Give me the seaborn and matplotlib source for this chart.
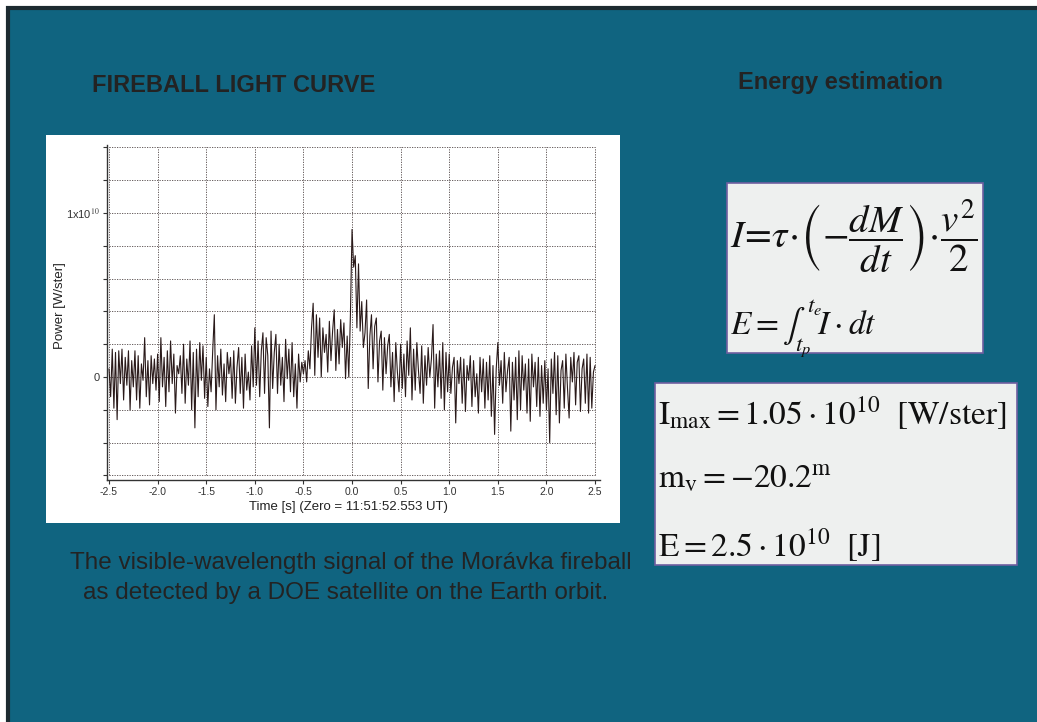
import numpy as np
import matplotlib
matplotlib.use('Agg')
import matplotlib.pyplot as plt
from matplotlib.patches import Rectangle
import seaborn as sns

# light curve, power in units of 1e10 W/ster, one sample every 1/60 s from -2.5 s
seg1 = [0.05, -0.12, 0.17, -0.19, 0.15, -0.26, 0.16, -0.04, 0.17, -0.14, 0.12, -0.05, 0.16, -0.20, 0.10,
        -0.06, 0.16, -0.14, 0.13, -0.19, 0.08, -0.02, 0.24, -0.12, 0.10, -0.17, 0.13, -0.04, 0.11, -0.08]
seg2 = [0.14, -0.15, 0.24, -0.06, 0.12, -0.18, 0.16, -0.09, 0.22, -0.04, 0.14, -0.22, 0.07, 0.02, 0.13,
        -0.10, 0.20, -0.16, 0.11, -0.05, 0.22, -0.20, 0.15, -0.31, 0.17, -0.12, 0.21, -0.02, 0.19, -0.13]
seg3 = [0.12, -0.18, 0.05, -0.09, 0.16, 0.38, -0.20, 0.13, -0.06, 0.17, -0.11, 0.08, -0.15, 0.15, 0.02,
        0.12, -0.13, 0.16, -0.16, 0.06, 0.18, -0.10, 0.12, -0.19, 0.14, -0.08, 0.03, -0.14, 0.19, -0.06]
seg4 = [0.30, -0.05, 0.22, -0.12, 0.16, 0.27, -0.10, 0.24, 0.13, -0.31, 0.28, -0.07, 0.15, 0.26, -0.10,
        0.20, -0.05, 0.12, -0.15, 0.23, -0.01, 0.17, -0.09, 0.21, -0.12, 0.08, -0.19, 0.14, -0.03, 0.09]
seg5 = [0.02, 0.10, -0.03, 0.16, 0.05, 0.30, 0.45, 0.01, 0.38, 0.12, 0.36, 0.00, 0.30, 0.15, 0.26,
        0.03, 0.34, 0.10, 0.28, 0.41, 0.04, 0.29, 0.08, 0.35, 0.18, 0.33, -0.01, 0.25, 0.00, 0.38]
seg6 = [0.90, 0.67, 0.74, 0.30, 0.69, 0.28, 0.46, 0.18, 0.27, 0.47, -0.07, 0.25, 0.38, 0.05, 0.31,
        0.36, -0.03, 0.22, 0.28, -0.08, 0.24, 0.02, 0.19, 0.26, -0.06, 0.15, -0.15, 0.21, 0.03, -0.09]
seg7 = [0.20, -0.07, 0.14, -0.12, 0.22, 0.01, 0.30, -0.14, 0.17, -0.08, 0.21, 0.04, -0.10, 0.19, -0.16,
        0.13, -0.05, 0.18, 0.00, 0.11, 0.32, -0.19, 0.14, -0.06, 0.16, -0.13, 0.21, -0.20, 0.15, -0.09]
seg8 = [0.14, -0.10, 0.06, 0.12, -0.28, 0.10, -0.04, 0.12, -0.16, 0.11, -0.21, 0.07, -0.02, 0.13, -0.18,
        0.10, -0.12, 0.02, -0.22, 0.12, -0.09, 0.11, -0.19, 0.09, -0.14, 0.13, -0.24, 0.07, -0.35, 0.05]
seg9 = [0.21, -0.05, 0.10, -0.16, 0.15, -0.09, 0.04, 0.12, -0.33, 0.09, -0.14, 0.12, -0.26, 0.16, -0.20,
        0.13, -0.08, 0.08, -0.22, 0.11, -0.27, 0.14, -0.06, 0.09, -0.18, 0.12, -0.24, 0.07, -0.16, 0.10]
seg10 = [-0.20, 0.05, -0.40, 0.11, -0.10, 0.15, -0.23, 0.13, -0.28, 0.04, 0.10, -0.19, 0.14, -0.07, -0.25,
         0.12, -0.03, 0.15, -0.17, 0.09, 0.13, -0.21, 0.05, 0.11, -0.16, 0.14, -0.22, 0.12, -0.19, 0.03, 0.07]

power = np.array(seg1 + seg2 + seg3 + seg4 + seg5 + seg6 + seg7 + seg8 + seg9 + seg10)
time = np.linspace(-2.5, 2.5, len(power))

xtick_values = [-2.5, -2.0, -1.5, -1.0, -0.5, 0.0, 0.5, 1.0, 1.5, 2.0, 2.5]
xtick_labels = ['-2.5', '-2.0', '-1.5', '-1.0', '-0.5', '0.0', '0.5', '1.0', '1.5', '2.0', '2.5']
ytick_values = [-0.6, -0.4, -0.2, 0.0, 0.2, 0.4, 0.6, 0.8, 1.0, 1.2, 1.4]
ytick_labels = ['', '', '', '0', '', '', '', '', '1x10$^{10}$', '', '']

teal = '#106480'
ink = '#232323'

sns.set_theme(style='white')
plt.rcParams['font.family'] = ['Liberation Sans', 'DejaVu Sans']
plt.rcParams['mathtext.fontset'] = 'stix'

W, H = 1037, 722
fig = plt.figure(figsize=(W / 100, H / 100), dpi=100, facecolor='white')


def fx(px):
    return px / W


def fy(py):
    return 1 - py / H


# slide background with dark border (only top and left edges fall inside the image)
fig.patches.append(Rectangle((fx(7.5), -0.1), 1.2, fy(7.5) + 0.1, transform=fig.transFigure,
                             facecolor=teal, edgecolor='#1c2a30', lw=3, zorder=-3))
# white panel of the chart
fig.patches.append(Rectangle((fx(46), fy(523)), fx(574), 388 / H, transform=fig.transFigure,
                             facecolor='white', edgecolor='none', zorder=-2))
# formula boxes
fig.patches.append(Rectangle((fx(727), fy(353)), fx(256), 170 / H, transform=fig.transFigure,
                             facecolor='#eef0ef', edgecolor='#6f5fa0', lw=1.2, zorder=-2))
fig.patches.append(Rectangle((fx(655), fy(565)), fx(362), 182 / H, transform=fig.transFigure,
                             facecolor='#eef0ef', edgecolor='#6f5fa0', lw=1.2, zorder=-2))

ax = fig.add_axes([fx(106.5), fy(480), fx(600 - 106.5), (480 - 145) / H])
ax.set_facecolor('white')
ax.hlines(ytick_values, -2.5, 2.5, colors='#504545', linestyles=(0, (1.5, 1.5)), lw=0.6, zorder=1)
ax.vlines(xtick_values, -0.6, 1.4, colors='#504545', linestyles=(0, (1.5, 1.5)), lw=0.6, zorder=1)
sns.lineplot(x=time, y=power, ax=ax, color='#2a1a1a', linewidth=0.8, zorder=3)

ax.set_xlim(-2.526, 2.551)
ax.set_ylim(-0.628, 1.415)
ax.set_xticks(xtick_values)
ax.set_xticklabels(xtick_labels, fontsize=7.5, color='#333333')
ax.set_yticks(ytick_values)
ax.set_yticklabels(ytick_labels, fontsize=8, color='#333333')
ax.tick_params(axis='both', direction='out', length=3, width=0.8, color='#333333', pad=2,
               left=True, bottom=True)
for side in ['top', 'right']:
    ax.spines[side].set_visible(False)
for side in ['left', 'bottom']:
    ax.spines[side].set_color('#333333')
    ax.spines[side].set_linewidth(1.0)

ax.set_xlabel('Time [s] (Zero = 11:51:52.553 UT)', fontsize=9.5, color='#222222')
ax.set_ylabel('Power [W/ster]', fontsize=9.5, color='#222222')
ax.xaxis.set_label_coords(0.49, -0.063)
ax.yaxis.set_label_coords(-0.082, 0.52)

# slide texts
fig.text(fx(92), fy(86), 'FIREBALL LIGHT CURVE', fontsize=17, fontweight='bold',
         color=ink, ha='left', va='center')
fig.text(fx(840), fy(83), 'Energy estimation', fontsize=17, fontweight='bold',
         color=ink, ha='center', va='center')
fig.text(fx(351), fy(563), 'The visible-wavelength signal of the Morávka fireball',
         fontsize=17.5, color=ink, ha='center', va='center')
fig.text(fx(346), fy(593), 'as detected by a DOE satellite on the Earth orbit.',
         fontsize=17.5, color=ink, ha='center', va='center')

fig.text(fx(730), fy(236),
         r'$I\!=\!\tau\!\cdot\!\left(-\dfrac{dM}{dt}\right)\!\cdot\!\dfrac{v^2}{2}$',
         fontsize=28, color='#111111', ha='left', va='center')
fig.text(fx(730), fy(329), r'$E=\int_{t_p}^{t_e}\!I\cdot dt$',
         fontsize=24, color='#111111', ha='left', va='center')

fig.text(fx(658), fy(414), r'$\mathrm{I_{max}}=1.05\cdot10^{10}\ \ [\mathrm{W/ster}]$',
         fontsize=24, color='#111111', ha='left', va='center')
fig.text(fx(658), fy(479), r'$\mathrm{m_v}=-20.2^{\mathrm{m}}$',
         fontsize=24, color='#111111', ha='left', va='center')
fig.text(fx(658), fy(546), r'$\mathrm{E}=2.5\cdot10^{10}\ \ [\mathrm{J}]$',
         fontsize=24, color='#111111', ha='left', va='center')

fig.savefig('out.png', dpi=100, facecolor=fig.get_facecolor())
